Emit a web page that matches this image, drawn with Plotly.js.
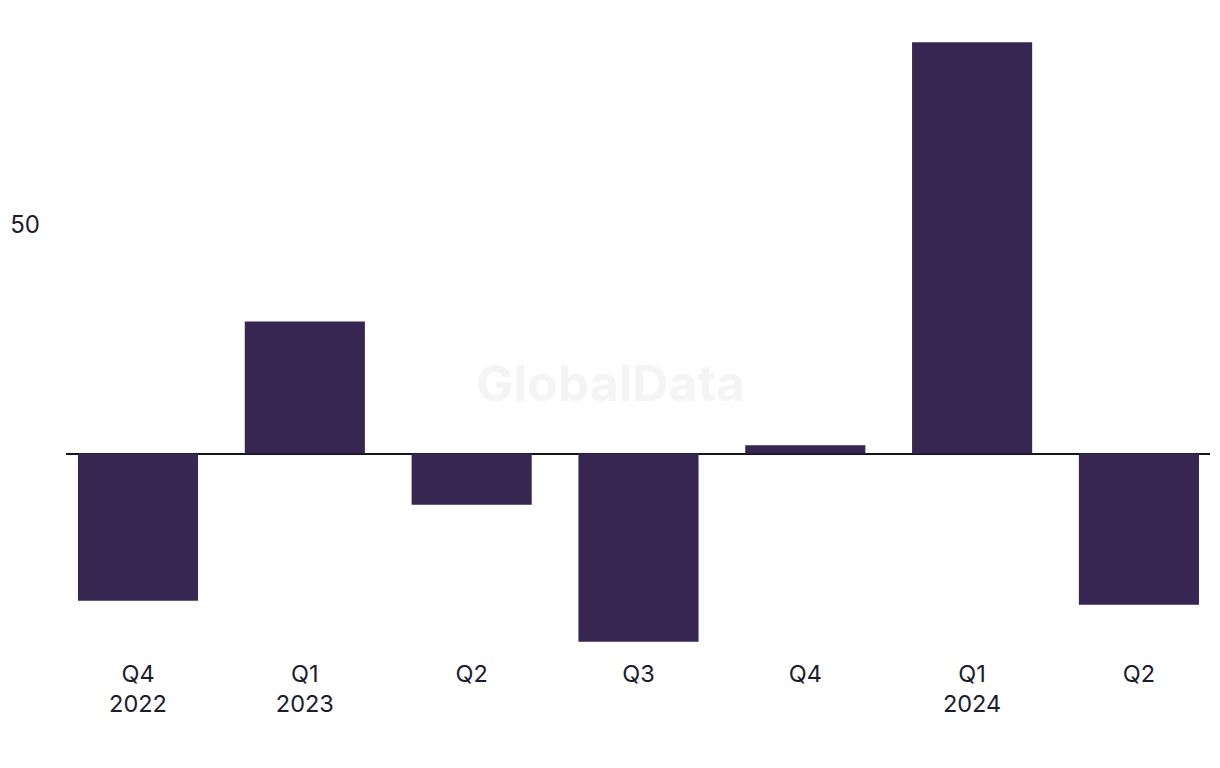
<!DOCTYPE html>
<html>
<head>
<meta charset="utf-8">
<script src="https://cdn.plot.ly/plotly-3.0.1.min.js"></script>
<style>html,body{margin:0;padding:0;background:#fff;}#chart{width:1220px;height:768px;}</style>
</head>
<body>
<div id="chart"></div>
<script>
const quarters = ["Q4<br>2022", "Q1<br>2023", "Q2", "Q3", "Q4", "Q1<br>2024", "Q2"];
const categoryKeys = ["Q4 2022", "Q1 2023", "Q2 2023", "Q3 2023", "Q4 2023", "Q1 2024", "Q2 2024"];
const values = [-32.2, 28.9, -11.2, -41.2, 1.8, 90.0, -33.1];
const yTickVals = [50];
const yTickText = ["50"];

const textColor = "#1c1c2e";
const barColor = "#372552";

const trace = {
  type: "bar",
  x: categoryKeys,
  y: values,
  marker: {color: barColor},
  hoverinfo: "x+y"
};

const layout = {
  width: 1220,
  height: 768,
  margin: {l: 66, r: 10, t: 20, b: 118},
  paper_bgcolor: "#ffffff",
  plot_bgcolor: "#ffffff",
  showlegend: false,
  bargap: 0.28,
  font: {family: "Inter, 'Liberation Sans', sans-serif", size: 22, color: textColor},
  xaxis: {
    type: "category",
    range: [-0.4317, 6.426],
    tickmode: "array",
    tickvals: categoryKeys,
    ticktext: quarters,
    showgrid: false,
    showline: false,
    zeroline: false,
    ticks: "",
    ticklabelstandoff: 7,
    tickfont: {size: 23.5, color: textColor}
  },
  yaxis: {
    range: [-43.0, 94.86],
    tickmode: "array",
    tickvals: yTickVals,
    ticktext: yTickText,
    showgrid: false,
    showline: false,
    zeroline: true,
    zerolinecolor: "#141424",
    zerolinewidth: 2,
    ticks: "",
    ticklabelstandoff: 25,
    tickfont: {size: 24, color: textColor}
  },
  annotations: [{
    text: "<b>GlobalData</b>",
    xref: "paper", yref: "paper",
    x: 0.476, y: 0.424,
    showarrow: false,
    font: {size: 50, color: "#f4f4f4", family: "Inter, 'Liberation Sans', sans-serif"}
  }]
};

Plotly.newPlot("chart", [trace], layout, {displayModeBar: false, staticPlot: true});
</script>
</body>
</html>
